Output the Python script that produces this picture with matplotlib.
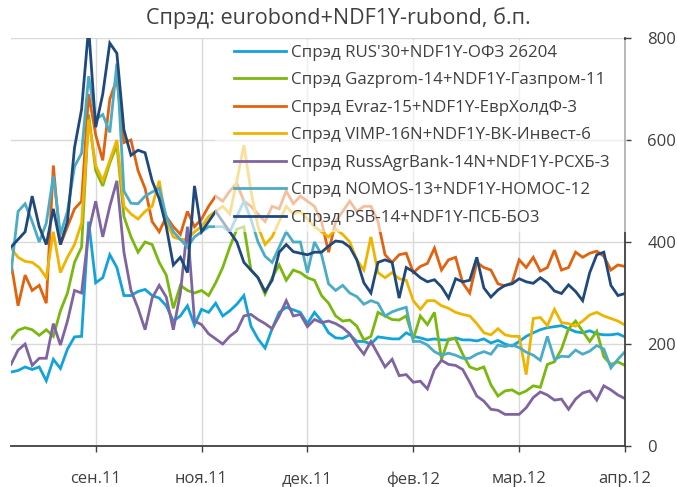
import matplotlib
matplotlib.use("Agg")
import matplotlib.pyplot as plt
from matplotlib.patches import Rectangle
import numpy as np

plt.rcParams["font.family"] = ["Open Sans", "DejaVu Sans"]

TEXT_COLOR = "#404040"
GRID_COLOR = "#D9D9D9"

TITLE = "Спрэд: eurobond+NDF1Y-rubond, б.п."
TICK_LABELS = ["сен.11", "ноя.11", "дек.11", "фев.12", "мар.12", "апр.12"]
TICK_POS = [12, 27, 42, 57, 72, 87]
Y_TICKS = [0, 200, 400, 600, 800]

LABELS = [
    "Спрэд RUS'30+NDF1Y-ОФЗ 26204",
    "Спрэд Gazprom-14+NDF1Y-Газпром-11",
    "Спрэд Evraz-15+NDF1Y-ЕврХолдФ-3",
    "Спрэд VIMP-16N+NDF1Y-ВК-Инвест-6",
    "Спрэд RussAgrBank-14N+NDF1Y-РСХБ-3",
    "Спрэд NOMOS-13+NDF1Y-НОМОС-12",
    "Спрэд PSB-14+NDF1Y-ПСБ-БО3",
]
COLORS = ["#12A3DC", "#7AB80E", "#E2620E", "#F0B400", "#8064A2", "#4BACC6", "#1F497D"]

rus30 = [145, 148, 155, 150, 155, 128, 170, 152, 190, 214, 215, 440, 320, 330, 375, 350,
         295, 295, 303, 307, 295, 290, 275, 245, 255, 275, 237, 268, 262, 280, 255, 265,
         278, 295, 235, 210, 192, 230, 262, 272, 267, 262, 240, 262, 245, 222, 212, 211,
         218, 205, 205, 200, 214, 212, 210, 210, 222, 215, 212, 208, 210, 208, 208, 212,
         208, 208, 206, 210, 202, 207, 200, 196, 205, 215, 222, 228, 232, 234, 236, 230,
         224, 222, 226, 220, 218, 218, 220, 214]
gazprom = [210, 227, 232, 228, 217, 228, 215, 265, 300, 360, 390, 650, 540, 510, 555, 590,
           450, 410, 380, 400, 395, 360, 335, 270, 315, 305, 300, 305, 295, 320, 350, 390,
           425, 430, 345, 330, 298, 330, 355, 325, 345, 340, 330, 325, 295, 280, 255, 245,
           247, 235, 208, 215, 262, 255, 248, 247, 255, 210, 255, 238, 262, 170, 210, 210,
           180, 155, 150, 155, 120, 98, 108, 110, 102, 108, 118, 115, 160, 165, 190, 230,
           245, 225, 205, 225, 175, 160, 165, 158]
evraz = [360, 275, 335, 305, 315, 280, 550, 395, 430, 465, 480, 690, 610, 560, 680, 720,
         595, 600, 540, 505, 440, 420, 450, 430, 415, 460, 430, 445, 470, 490, 480, 500,
         515, 480, 470, 455, 440, 470, 465, 500, 475, 490, 480, 470, 440, 380, 440, 460,
         480, 460, 470, 470, 440, 375, 360, 375, 378, 340, 352, 358, 388, 345, 365, 370,
         320, 300, 360, 350, 345, 318, 314, 320, 365, 350, 370, 343, 350, 384, 345, 350,
         380, 370, 378, 382, 372, 345, 355, 352]
vimp = [388, 370, 362, 360, 350, 330, 420, 340, 370, 395, 437, 640, 550, 520, 560, 600,
        470, 455, 445, 460, 470, 520, 440, 410, 405, 405, 420, 430, 450, 460, 470, 455,
        520, 590, 500, 430, 395, 410, 440, 470, 455, 460, 445, 430, 420, 410, 425, 415,
        400, 365, 345, 410, 340, 330, 340, 328, 325, 285, 268, 285, 285, 275, 270, 262,
        258, 255, 240, 222, 218, 230, 218, 215, 215, 140, 250, 252, 236, 268, 242, 240,
        235, 245, 257, 262, 255, 250, 245, 237]
russagr = [160, 188, 200, 158, 172, 172, 240, 198, 245, 305, 300, 420, 480, 410, 470, 520,
           380, 305, 270, 228, 290, 315, 292, 228, 300, 430, 245, 238, 220, 210, 200, 215,
           226, 255, 258, 248, 240, 230, 255, 285, 255, 258, 234, 248, 242, 245, 240, 232,
           220, 198, 180, 205, 180, 155, 170, 138, 140, 125, 127, 112, 150, 168, 160, 158,
           150, 125, 98, 88, 72, 70, 62, 62, 62, 75, 95, 106, 100, 90, 92, 72,
           92, 104, 108, 90, 118, 110, 100, 93]
nomos = [340, 460, 475, 440, 400, 437, 530, 415, 460, 548, 574, 725, 640, 650, 615, 750,
         500, 476, 475, 490, 498, 505, 450, 420, 405, 390, 410, 420, 430, 430, 430, 420,
         450, 480, 445, 400, 372, 360, 390, 420, 400, 400, 340, 400, 375, 318, 305, 315,
         300, 293, 278, 285, 280, 255, 263, 268, 272, 205, 205, 198, 185, 178, 182, 178,
         172, 172, 180, 185, 180, 198, 195, 198, 193, 184, 178, 168, 215, 170, 176, 175,
         188, 180, 186, 197, 190, 153, 170, 185]
psb = [390, 405, 420, 490, 430, 395, 465, 395, 440, 585, 660, 820, 625, 690, 790, 770,
       620, 570, 580, 575, 520, 485, 430, 355, 370, 340, 510, 420, 440, 460, 440, 420,
       400, 360, 345, 330, 303, 325, 380, 395, 381, 378, 375, 380, 380, 392, 402, 400,
       390, 365, 320, 300, 360, 365, 360, 290, 350, 342, 330, 322, 326, 312, 290, 328,
       322, 325, 370, 310, 292, 306, 315, 318, 328, 322, 319, 330, 320, 304, 299, 316,
       303, 285, 340, 375, 380, 315, 295, 299]

SERIES = [rus30, gazprom, evraz, vimp, russagr, nomos, psb]


def main() -> None:
    fig = plt.figure(figsize=(6.77, 4.87), dpi=100)
    ax = fig.add_axes([11 / 677, 41 / 487, 614 / 677, 408 / 487])

    x = np.arange(len(rus30))
    for values, label, color in zip(SERIES, LABELS, COLORS):
        ax.plot(x, values, color=color, lw=2.0, label=label, solid_joinstyle="miter")

    ax.set_xlim(0, len(rus30) - 1)
    ax.set_ylim(0, 800)
    ax.set_xticks(TICK_POS)
    ax.set_xticklabels(TICK_LABELS)
    ax.set_yticks(Y_TICKS)
    ax.yaxis.tick_right()

    ax.grid(True, color=GRID_COLOR, lw=1.0)
    ax.set_axisbelow(True)
    for side in ("left", "top"):
        ax.spines[side].set_visible(False)
    for side in ("right", "bottom"):
        ax.spines[side].set_color(TEXT_COLOR)
        ax.spines[side].set_linewidth(1.3)

    ax.tick_params(axis="x", direction="out", length=4, width=1, color=TEXT_COLOR,
                   labelsize=12, labelcolor=TEXT_COLOR, pad=14)
    ax.tick_params(axis="y", direction="out", length=4, width=1, color=TEXT_COLOR,
                   labelsize=12, labelcolor=TEXT_COLOR, pad=12)

    # semi-transparent backdrop behind the legend (fades the lines under it)
    ax.add_patch(Rectangle((0.332, 0.525), 0.671, 0.47, transform=ax.transAxes,
                           facecolor="white", edgecolor="none", alpha=0.6,
                           zorder=4, clip_on=False))

    leg = ax.legend(loc="upper left", bbox_to_anchor=(0.352, 1.0), fontsize=12.2,
                    frameon=False, handlelength=3.1, handletextpad=0.25,
                    labelspacing=0.68, borderaxespad=0, borderpad=0.4)
    leg.set_zorder(5)
    for t in leg.get_texts():
        t.set_color(TEXT_COLOR)

    fig.suptitle(TITLE, x=0.5, y=0.985, fontsize=15.5, color=TEXT_COLOR)

    fig.savefig("out.png", dpi=100)


if __name__ == "__main__":
    main()
